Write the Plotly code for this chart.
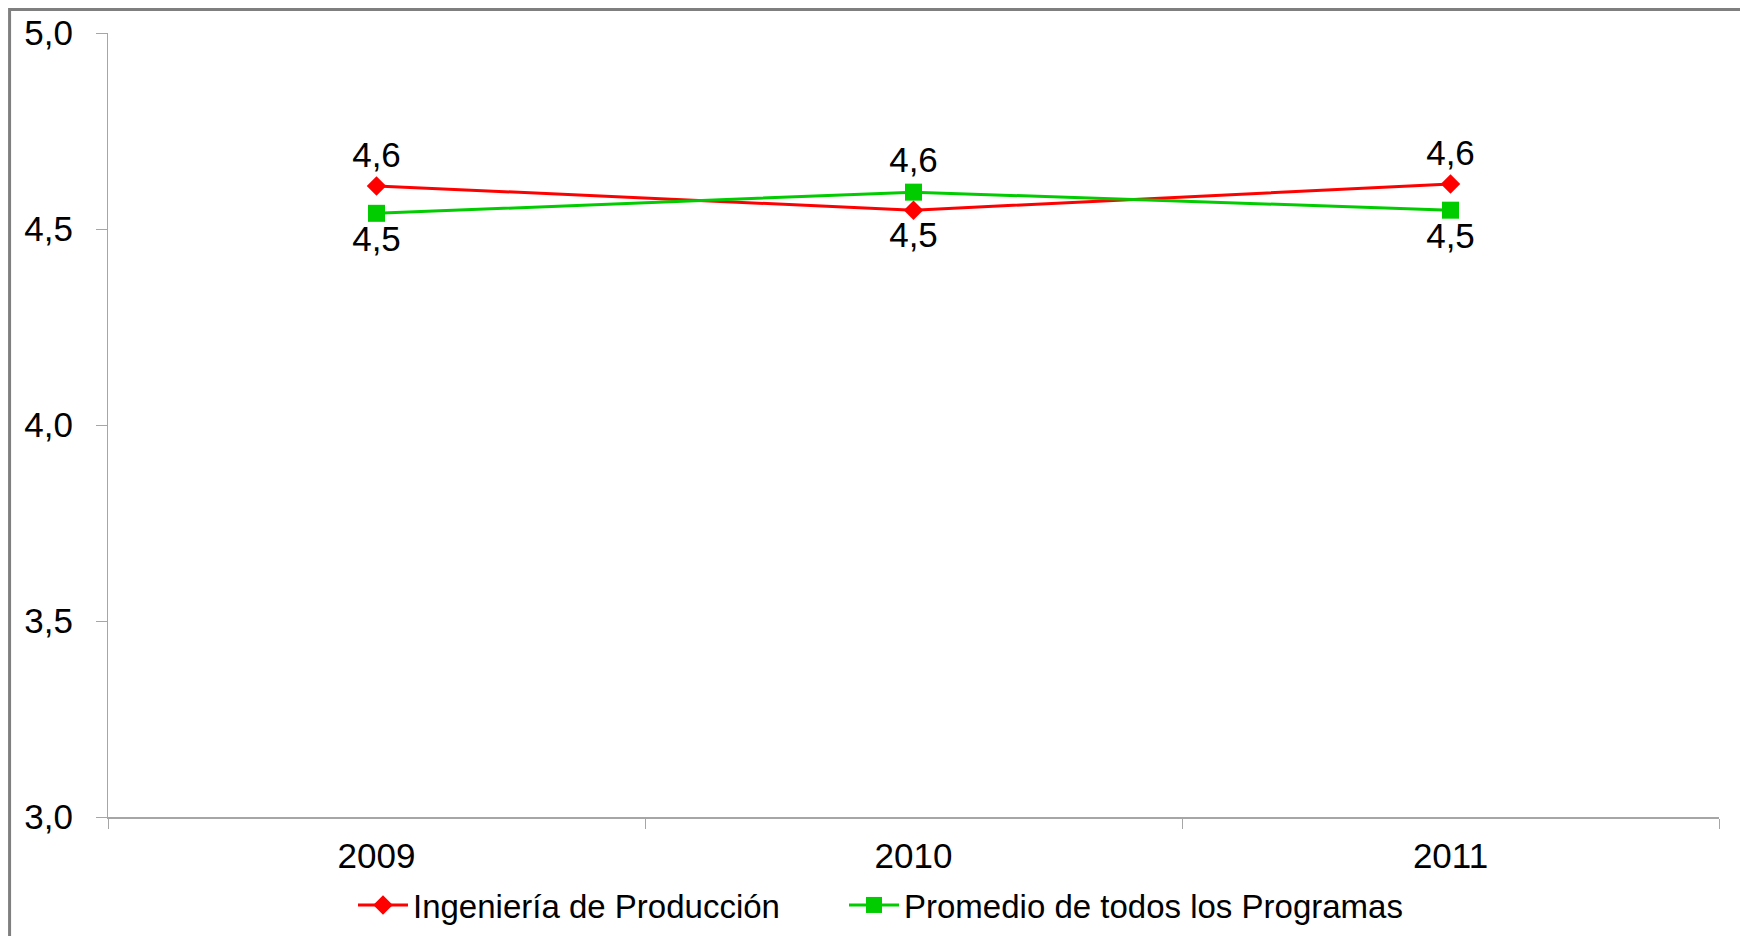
import plotly.graph_objects as go

years = ["2009", "2010", "2011"]
ingenieria = [4.61, 4.548, 4.615]
promedio = [4.54, 4.594, 4.548]
y_ticks = [3.0, 3.5, 4.0, 4.5, 5.0]

FONT = "Liberation Sans, Arial, sans-serif"
AXIS_GREY = "#a6a6a6"
TXT = 35
W, H = 1740, 928  # page body adds an 8px offset

fig = go.Figure()
fig.add_trace(go.Scatter(
    x=years, y=ingenieria, name="Ingeniería de Producción",
    mode="lines+markers+text",
    line=dict(color="#ff0000", width=3),
    marker=dict(symbol="diamond", size=15, color="#ff0000"),
    texttemplate="%{y:.1f}",
    textposition=["top center", "bottom center", "top center"],
    textfont=dict(size=TXT, color="black"),
    legend="legend", showlegend=True,
))
fig.add_trace(go.Scatter(
    x=years, y=promedio, name="Promedio de todos los Programas",
    mode="lines+markers+text",
    line=dict(color="#00cc00", width=3),
    marker=dict(symbol="square", size=17, color="#00cc00"),
    texttemplate="%{y:.1f}",
    textposition=["bottom center", "top center", "bottom center"],
    textfont=dict(size=TXT, color="black"),
    legend="legend2", showlegend=True,
))

legend_common = dict(
    orientation="h", xanchor="left", xref="container", yref="container",
    y=1 - 897 / H, yanchor="middle", font=dict(size=33), itemwidth=50,
)

fig.update_layout(
    width=W, height=H,
    margin=dict(l=100, r=29, t=25, b=119, autoexpand=False),
    plot_bgcolor="white",
    paper_bgcolor="white",
    separators=",.",
    showlegend=True,
    font=dict(family=FONT, size=TXT, color="black"),
    xaxis=dict(
        type="category", range=[-0.5, 2.5], automargin=False,
        showgrid=False, showline=True, linecolor=AXIS_GREY, linewidth=2,
        ticks="outside", tickson="boundaries", ticklen=10, tickcolor=AXIS_GREY,
        tickwidth=1, ticklabelstandoff=7, tickfont=dict(size=TXT),
    ),
    yaxis=dict(
        range=[3, 5], tickvals=y_ticks, tickformat=".1f", automargin=False,
        showgrid=False, zeroline=False, showline=True, linecolor=AXIS_GREY,
        linewidth=1, ticks="outside", ticklen=11, tickcolor=AXIS_GREY,
        ticklabelstandoff=16, tickfont=dict(size=TXT),
    ),
    legend=dict(x=345 / W, visible=True, **legend_common),
    legend2=dict(x=836 / W, visible=True, **legend_common),
    shapes=[dict(
        type="rect", xref="paper", yref="paper",
        x0=-0.0611, x1=1.0161, y0=-0.2, y1=1.030,
        line=dict(color="#7f7f7f", width=3),
    )],
)

fig.write_html("out.html")
